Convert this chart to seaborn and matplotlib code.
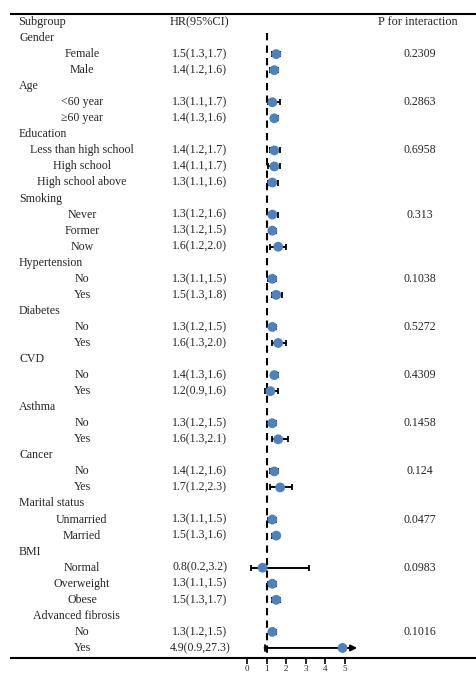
import matplotlib
matplotlib.use("Agg")
import matplotlib.pyplot as plt
import seaborn as sns
import pandas as pd
import numpy as np

# Subgroup rows: headings have no estimate
labels = [
    "Gender", "Female", "Male",
    "Age", "<60 year", "≥60 year",
    "Education", "Less than high school", "High school", "High school above",
    "Smoking", "Never", "Former", "Now",
    "Hypertension", "No", "Yes",
    "Diabetes", "No", "Yes",
    "CVD", "No", "Yes",
    "Asthma", "No", "Yes",
    "Cancer", "No", "Yes",
    "Marital status", "Unmarried", "Married",
    "BMI", "Normal", "Overweight", "Obese",
    "Advanced fibrosis", "No", "Yes",
]
hr = [None, 1.5, 1.4,
      None, 1.3, 1.4,
      None, 1.4, 1.4, 1.3,
      None, 1.3, 1.3, 1.6,
      None, 1.3, 1.5,
      None, 1.3, 1.6,
      None, 1.4, 1.2,
      None, 1.3, 1.6,
      None, 1.4, 1.7,
      None, 1.3, 1.5,
      None, 0.8, 1.3, 1.5,
      None, 1.3, 4.9]
lo = [None, 1.3, 1.2,
      None, 1.1, 1.3,
      None, 1.2, 1.1, 1.1,
      None, 1.2, 1.2, 1.2,
      None, 1.1, 1.3,
      None, 1.2, 1.3,
      None, 1.3, 0.9,
      None, 1.2, 1.3,
      None, 1.2, 1.2,
      None, 1.1, 1.3,
      None, 0.2, 1.1, 1.3,
      None, 1.2, 0.9]
hi = [None, 1.7, 1.6,
      None, 1.7, 1.6,
      None, 1.7, 1.7, 1.6,
      None, 1.6, 1.5, 2.0,
      None, 1.5, 1.8,
      None, 1.5, 2.0,
      None, 1.6, 1.6,
      None, 1.5, 2.1,
      None, 1.6, 2.3,
      None, 1.5, 1.6,
      None, 3.2, 1.5, 1.7,
      None, 1.5, 27.3]
p_int = [None, "0.2309", None,
         None, "0.2863", None,
         None, "0.6958", None, None,
         None, "0.313", None, None,
         None, "0.1038", None,
         None, "0.5272", None,
         None, "0.4309", None,
         None, "0.1458", None,
         None, "0.124", None,
         None, "0.0477", None,
         None, "0.0983", None, None,
         None, "0.1016", None]
x_ticks = [0, 1, 2, 3, 4, 5]

sns.set_theme(style="white")
plt.rcParams["font.family"] = ["Liberation Serif", "DejaVu Serif"]

W, H = 476, 673
fig = plt.figure(figsize=(W / 100, H / 100), dpi=100)

# Background axes in pixel units for table text and rules
bg = fig.add_axes([0, 0, 1, 1])
bg.set_xlim(0, W)
bg.set_ylim(H, 0)
bg.axis("off")

row0, step = 22.0, 16.05
top_px, bot_px = 14.0, 658.0


def ypx(r):
    return row0 + step * r


FS = 8.6
HFS = 8.8
bg.plot([10, W], [top_px, top_px], color="black", lw=1.5, solid_capstyle="butt")
bg.plot([10, W], [bot_px, bot_px], color="black", lw=1.5, solid_capstyle="butt")

bg.text(18, ypx(0), "Subgroup", ha="left", va="center", fontsize=HFS)
bg.text(199, ypx(0), "HR(95%CI)", ha="center", va="center", fontsize=HFS)
bg.text(418, ypx(0), "P for interaction", ha="center", va="center", fontsize=HFS)

centered_headings = {"Advanced fibrosis"}
rows = np.arange(1, len(labels) + 1)
for r, lab, h, l, u, p in zip(rows, labels, hr, lo, hi, p_int):
    y = ypx(r)
    if h is None:
        if lab in centered_headings:
            bg.text(76, y, lab, ha="center", va="center", fontsize=FS)
        else:
            bg.text(19, y, lab, ha="left", va="center", fontsize=FS)
        continue
    bg.text(82, y, lab, ha="center", va="center", fontsize=FS)
    bg.text(200, y, f"{h}({l},{u})", ha="center", va="center", fontsize=FS)
    if p is not None:
        bg.text(420, y, p, ha="center", va="center", fontsize=FS)

# Forest axes: 19.5 px per HR unit, HR 0 at x = 247 px
xmin, xmax = -0.5, 6.0
ppu = 19.5
left_px = 247 - (0 - xmin) * ppu
width_px = (xmax - xmin) * ppu
ax = fig.add_axes([left_px / W, 1 - bot_px / H, width_px / W, (bot_px - top_px) / H])
ax.patch.set_alpha(0)
ax.set_xlim(xmin, xmax)
ax.set_ylim((bot_px - row0) / step, (top_px - row0) / step)
for s in ax.spines.values():
    s.set_visible(False)
ax.set_yticks([])
ax.set_xticks(x_ticks)
ax.tick_params(axis="x", bottom=True, length=4, width=1.2, color="black",
               direction="out", labelsize=6.5, pad=0.8)

df = pd.DataFrame({"row": rows, "hr": hr, "lo": lo, "hi": hi}).dropna()
df = df.astype({"hr": float, "lo": float, "hi": float})

ax.vlines(1, 0.7, (bot_px - row0) / step, colors="black", lw=1.5,
          linestyles=(0, (3.5, 2.5)), zorder=1)

inside = df[df["hi"] <= xmax]
ax.errorbar(inside["hr"], inside["row"],
            xerr=[inside["hr"] - inside["lo"], inside["hi"] - inside["hr"]],
            fmt="none", ecolor="black", elinewidth=1.4, capsize=2.5,
            capthick=1.3, zorder=2)

# Intervals running past the axis end get an arrow
outside = df[df["hi"] > xmax]
for _, rw in outside.iterrows():
    ax.annotate("", xy=(xmax - 0.35, rw["row"]), xytext=(rw["lo"], rw["row"]),
                arrowprops=dict(arrowstyle="-|>", color="black", lw=1.4,
                                mutation_scale=9, shrinkA=0, shrinkB=0),
                zorder=2)
    ax.plot([rw["lo"], rw["lo"]], [rw["row"] - 0.16, rw["row"] + 0.16],
            color="black", lw=1.3, zorder=2)

sns.scatterplot(data=df, x="hr", y="row", ax=ax, color="#4f81bd", s=50,
                edgecolor="none", zorder=3, legend=False)
ax.set_xlabel("")
ax.set_ylabel("")

fig.savefig("out.png", dpi=100)
